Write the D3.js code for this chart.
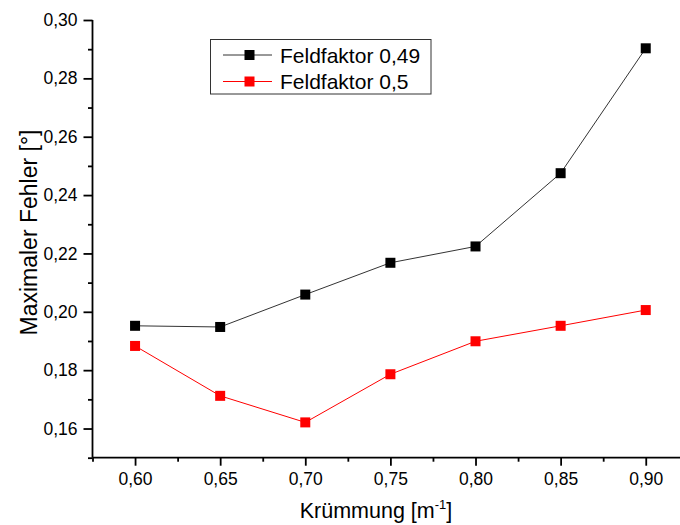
<!DOCTYPE html>
<html><head><meta charset="utf-8">
<script src="https://cdn.jsdelivr.net/npm/d3@7"></script>
<style>body{margin:0;background:#fff}svg{display:block}text{font-family:"Liberation Sans",Arial,sans-serif}</style>
</head><body><svg id="c" width="680" height="525"></svg>
<script>
const xValues = [0.60, 0.65, 0.70, 0.75, 0.80, 0.85, 0.90];
const seriesNames = ["Feldfaktor 0,49", "Feldfaktor 0,5"];
const series049 = [0.1952, 0.1948, 0.2059, 0.2168, 0.2224, 0.2475, 0.2903];
const series05 = [0.1883, 0.1712, 0.1621, 0.1786, 0.1899, 0.1952, 0.2006];
const seriesColors = ["#000000", "#ff0000"];
const xMajorTicks = [0.60, 0.65, 0.70, 0.75, 0.80, 0.85, 0.90];
const xMinorTicks = [0.575, 0.625, 0.675, 0.725, 0.775, 0.825, 0.875, 0.925];
const yMajorTicks = [0.16, 0.18, 0.20, 0.22, 0.24, 0.26, 0.28, 0.30];
const yMinorTicks = [0.15, 0.17, 0.19, 0.21, 0.23, 0.25, 0.27, 0.29];
const xTitle = "Krümmung [m";
const yTitle = "Maximaler Fehler [°]";

const svg = d3.select("#c");
const x = d3.scaleLinear().domain([0.575, 0.925]).range([92.5, 688.3]);
const y = d3.scaleLinear().domain([0.15, 0.30]).range([457.7, 20]);
const fmt = d => d3.format(".2f")(d).replace(".", ",");

// axes
const gx = svg.append("g").attr("transform", `translate(0,${y(0.15)})`);
gx.call(d3.axisBottom(x).tickValues(xMajorTicks).tickFormat(fmt).tickSize(8).tickPadding(7));
const gxm = svg.append("g").attr("transform", `translate(0,${y(0.15)})`);
gxm.call(d3.axisBottom(x).tickValues(xMinorTicks).tickFormat("").tickSize(4));
const gy = svg.append("g").attr("transform", `translate(${x(0.575)},0)`);
gy.call(d3.axisLeft(y).tickValues(yMajorTicks).tickFormat(fmt).tickSize(9).tickPadding(6));
const gym = svg.append("g").attr("transform", `translate(${x(0.575)},0)`);
gym.call(d3.axisLeft(y).tickValues(yMinorTicks).tickFormat("").tickSize(4.5));
svg.selectAll(".domain").attr("stroke", "#000").attr("stroke-width", 1.8);
svg.selectAll(".tick line").attr("stroke", "#000").attr("stroke-width", 1.8);
svg.selectAll(".tick text").attr("font-size", 17.5).attr("fill", "#000");
gx.selectAll(".domain").attr("d", `M${x(0.575)},0H680`);
gxm.select(".domain").remove();
gym.select(".domain").remove();
gy.select(".domain").attr("d", `M0,${y(0.30)}V${y(0.15)}`);

// titles
const xt = svg.append("text").attr("x", 376).attr("y", 518).attr("text-anchor", "middle").attr("font-size", 21.5).attr("fill", "#000");
xt.append("tspan").text(xTitle);
xt.append("tspan").attr("dy", -9).attr("font-size", 13).text("-1");
xt.append("tspan").attr("dy", 9).text("]");
svg.append("text").attr("transform", "translate(37,232.5) rotate(-90)").attr("text-anchor", "middle")
  .attr("font-size", 23).attr("fill", "#000").text(yTitle);

// data
const allSeries = [series049, series05];
const line = d3.line().x((d, i) => x(xValues[i])).y(d => y(d));
allSeries.forEach((s, k) => {
  svg.append("path").datum(s).attr("d", line).attr("fill", "none")
    .attr("stroke", k === 0 ? "#333" : seriesColors[k]).attr("stroke-width", 1);
  svg.selectAll(null).data(s).enter().append("rect")
    .attr("x", (d, i) => x(xValues[i]) - 5).attr("y", d => y(d) - 5)
    .attr("width", 10).attr("height", 10).attr("fill", seriesColors[k]);
});

// legend
const lg = svg.append("g");
lg.append("rect").attr("x", 210.5).attr("y", 39.5).attr("width", 220.5).attr("height", 54.5)
  .attr("fill", "#fff").attr("stroke", "#333").attr("stroke-width", 1);
seriesNames.forEach((n, k) => {
  const yy = 55 + k * 26.5;
  lg.append("line").attr("x1", 223).attr("x2", 272).attr("y1", yy).attr("y2", yy)
    .attr("stroke", k === 0 ? "#333" : seriesColors[k]).attr("stroke-width", 1);
  lg.append("rect").attr("x", 244.5).attr("y", yy - 5).attr("width", 10).attr("height", 10).attr("fill", seriesColors[k]);
  lg.append("text").attr("x", 280).attr("y", yy + 7.5).attr("font-size", 21).attr("fill", "#000").text(n);
});
</script></body></html>
